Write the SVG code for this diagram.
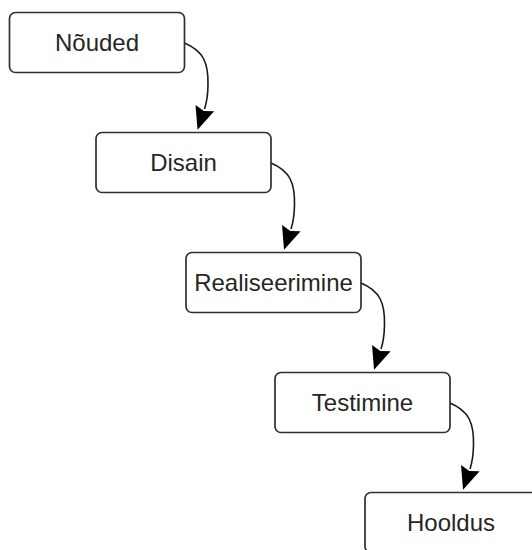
<svg xmlns="http://www.w3.org/2000/svg" width="532" height="550" viewBox="0 0 532 550">
  <style>
    .box { fill: #ffffff; stroke: #303030; stroke-width: 1.7; }
    .label { font-family: "Liberation Sans", Arial, sans-serif; font-size: 24px; fill: #262626; text-anchor: middle; }
    .edge { fill: none; stroke: #1a1a1a; stroke-width: 1.6; }
  </style>
  <defs>
    <!-- filled arrowhead; path ends at its base, tip lies 22px further on -->
    <marker id="arrow" markerUnits="userSpaceOnUse" markerWidth="28" markerHeight="26" viewBox="-3 -12 28 24" refX="0" refY="0" orient="auto">
      <path d="M22,0 L-1,-9.8 L2,0 L-1,9.8 Z" fill="#000000"/>
    </marker>
  </defs>

  <rect width="532" height="550" fill="#ffffff"/>

  <g id="connectors">
    <path class="edge" marker-end="url(#arrow)" transform="translate(184.5,43)" d="M0,0 C19,8 24,20 23.5,42 C23.3,54 22,60 20,66"/>
    <path class="edge" marker-end="url(#arrow)" transform="translate(271,163)" d="M0,0 C19,8 24,20 23.5,42 C23.3,54 22,60 20,66"/>
    <path class="edge" marker-end="url(#arrow)" transform="translate(361,283)" d="M0,0 C19,8 24,20 23.5,42 C23.3,54 22,60 20,66"/>
    <path class="edge" marker-end="url(#arrow)" transform="translate(450,403)" d="M0,0 C19,8 24,20 23.5,42 C23.3,54 22,60 20,66"/>
  </g>

  <g id="noeuded">
    <rect class="box" x="9.5" y="12.5" width="175" height="60" rx="6"/>
    <text class="label" x="97" y="51">Nõuded</text>
  </g>
  <g id="disain">
    <rect class="box" x="96" y="132.5" width="175" height="60" rx="6"/>
    <text class="label" x="183.5" y="171">Disain</text>
  </g>
  <g id="realiseerimine">
    <rect class="box" x="186" y="252.5" width="175" height="60" rx="6"/>
    <text class="label" x="273.5" y="291">Realiseerimine</text>
  </g>
  <g id="testimine">
    <rect class="box" x="275" y="372.5" width="175" height="60" rx="6"/>
    <text class="label" x="362.5" y="411">Testimine</text>
  </g>
  <g id="hooldus">
    <rect class="box" x="365" y="492.5" width="175" height="60" rx="6"/>
    <text class="label" x="451" y="531">Hooldus</text>
  </g>
</svg>
